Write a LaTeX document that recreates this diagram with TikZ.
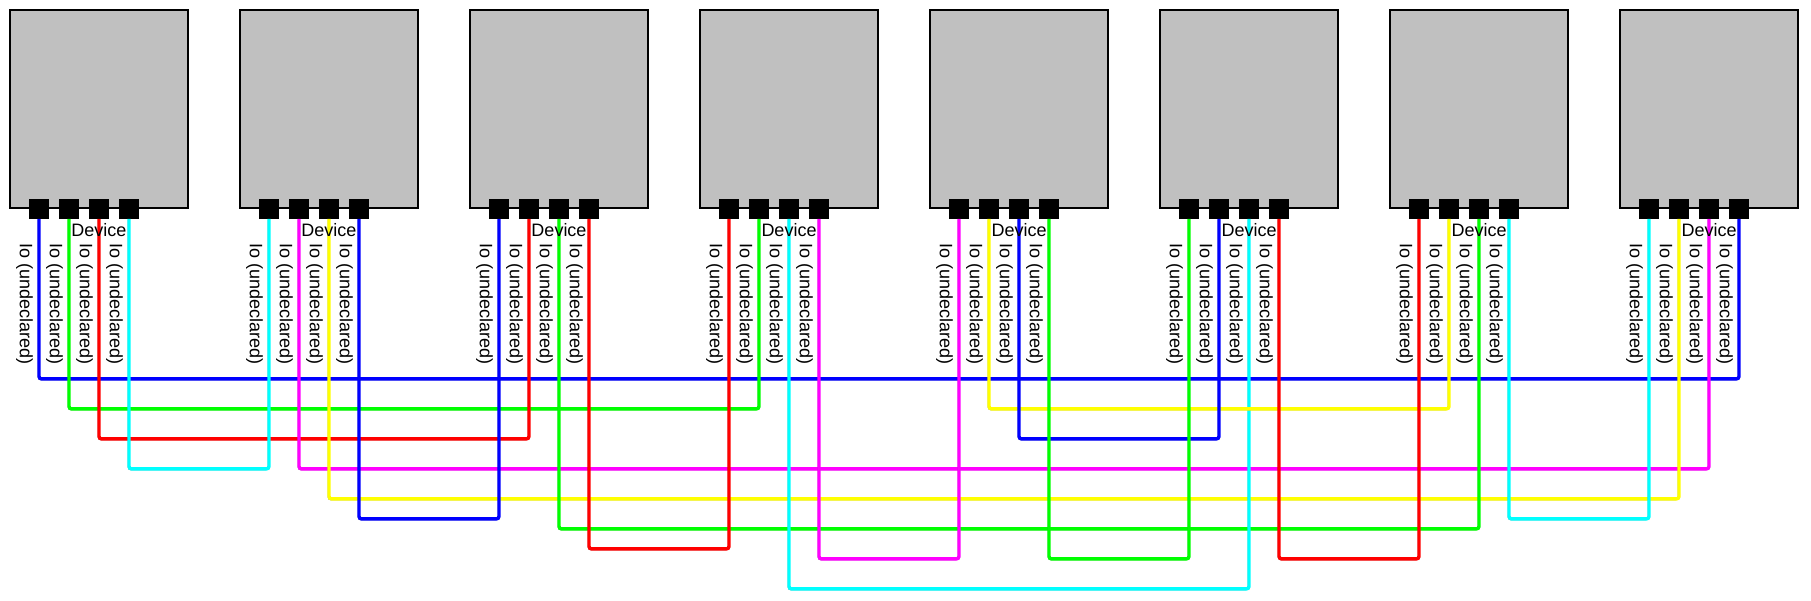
\documentclass[tikz,border=0pt]{standalone}
\usepackage{fontspec}
\setmainfont{Liberation Sans}
\definecolor{devgray}{RGB}{192,192,192}
\definecolor{wireblue}{RGB}{0,0,255}
\definecolor{wiregreen}{RGB}{0,255,0}
\definecolor{wirered}{RGB}{255,0,0}
\definecolor{wirecyan}{RGB}{0,255,255}
\definecolor{wiremagenta}{RGB}{255,0,255}
\definecolor{wireyellow}{RGB}{255,255,0}

\begin{document}
\begin{tikzpicture}[x=1pt,y=1pt,node distance=230pt,
    device/.style={draw=black,fill=devgray,line width=1.8pt,minimum width=177.4pt,minimum height=198pt,inner sep=0pt},
    devlabel/.style={node distance=121pt,font=\fontsize{18}{20}\selectfont,inner sep=0pt},
    pin/.style={fill=black,minimum size=19.4pt,inner sep=0pt,node distance=30pt},
    iolabel/.style={rotate=-90,font=\fontsize{18}{20}\selectfont,inner sep=0pt},
    wire/.style={line width=3.4pt,rounded corners=2.5pt,
        preaction={draw=black,transform canvas={shift={(-1pt,-1pt)}}}}]
                \useasboundingbox (0,0) rectangle (1811,-600);

                % devices
                \node[device] (d1) at (99,-109) {};
                \node[device] (d2) [right of = d1] {};
                \node[device] (d3) [right of = d2] {};
                \node[device] (d4) [right of = d3] {};
                \node[device] (d5) [right of = d4] {};
                \node[device] (d6) [right of = d5] {};
                \node[device] (d7) [right of = d6] {};
                \node[device] (d8) [right of = d7] {};

                % pins
                \node[pin] (p1a) at ([xshift=-60pt]d1.south) {};
                \node[pin] (p1b) [right of = p1a] {};
                \node[pin] (p1c) [right of = p1b] {};
                \node[pin] (p1d) [right of = p1c] {};
                \node[pin] (p2a) at ([xshift=-60pt]d2.south) {};
                \node[pin] (p2b) [right of = p2a] {};
                \node[pin] (p2c) [right of = p2b] {};
                \node[pin] (p2d) [right of = p2c] {};
                \node[pin] (p3a) at ([xshift=-60pt]d3.south) {};
                \node[pin] (p3b) [right of = p3a] {};
                \node[pin] (p3c) [right of = p3b] {};
                \node[pin] (p3d) [right of = p3c] {};
                \node[pin] (p4a) at ([xshift=-60pt]d4.south) {};
                \node[pin] (p4b) [right of = p4a] {};
                \node[pin] (p4c) [right of = p4b] {};
                \node[pin] (p4d) [right of = p4c] {};
                \node[pin] (p5a) at ([xshift=-60pt]d5.south) {};
                \node[pin] (p5b) [right of = p5a] {};
                \node[pin] (p5c) [right of = p5b] {};
                \node[pin] (p5d) [right of = p5c] {};
                \node[pin] (p6a) at ([xshift=-60pt]d6.south) {};
                \node[pin] (p6b) [right of = p6a] {};
                \node[pin] (p6c) [right of = p6b] {};
                \node[pin] (p6d) [right of = p6c] {};
                \node[pin] (p7a) at ([xshift=-60pt]d7.south) {};
                \node[pin] (p7b) [right of = p7a] {};
                \node[pin] (p7c) [right of = p7b] {};
                \node[pin] (p7d) [right of = p7c] {};
                \node[pin] (p8a) at ([xshift=-60pt]d8.south) {};
                \node[pin] (p8b) [right of = p8a] {};
                \node[pin] (p8c) [right of = p8b] {};
                \node[pin] (p8d) [right of = p8c] {};

                % wires
                \draw[wire, wireblue] (p1a) -- ++(0,-170) -| (p8d);
                \draw[wire, wiregreen] (p1b) -- ++(0,-200) -| (p4b);
                \draw[wire, wirered] (p1c) -- ++(0,-230) -| (p3b);
                \draw[wire, wirecyan] (p1d) -- ++(0,-260) -| (p2a);
                \draw[wire, wiremagenta] (p2b) -- ++(0,-260) -| (p8c);
                \draw[wire, wireyellow] (p2c) -- ++(0,-290) -| (p8b);
                \draw[wire, wireblue] (p2d) -- ++(0,-310) -| (p3a);
                \draw[wire, wiregreen] (p3c) -- ++(0,-320) -| (p7c);
                \draw[wire, wirered] (p3d) -- ++(0,-340) -| (p4a);
                \draw[wire, wirecyan] (p4c) -- ++(0,-380) -| (p6c);
                \draw[wire, wiremagenta] (p4d) -- ++(0,-350) -| (p5a);
                \draw[wire, wireyellow] (p5b) -- ++(0,-200) -| (p7b);
                \draw[wire, wireblue] (p5c) -- ++(0,-230) -| (p6b);
                \draw[wire, wiregreen] (p5d) -- ++(0,-350) -| (p6a);
                \draw[wire, wirered] (p6d) -- ++(0,-350) -| (p7a);
                \draw[wire, wirecyan] (p7d) -- ++(0,-310) -| (p8a);

                % device names
                \node[devlabel] (t1) [below of = d1] {Device};
                \node[devlabel] (t2) [below of = d2] {Device};
                \node[devlabel] (t3) [below of = d3] {Device};
                \node[devlabel] (t4) [below of = d4] {Device};
                \node[devlabel] (t5) [below of = d5] {Device};
                \node[devlabel] (t6) [below of = d6] {Device};
                \node[devlabel] (t7) [below of = d7] {Device};
                \node[devlabel] (t8) [below of = d8] {Device};

                % pin names
                \node[iolabel] (l1a) at ([xshift=-14.5pt,yshift=-95pt]p1a) {Io (undeclared)};
                \node[iolabel] (l1b) at ([xshift=-14.5pt,yshift=-95pt]p1b) {Io (undeclared)};
                \node[iolabel] (l1c) at ([xshift=-14.5pt,yshift=-95pt]p1c) {Io (undeclared)};
                \node[iolabel] (l1d) at ([xshift=-14.5pt,yshift=-95pt]p1d) {Io (undeclared)};
                \node[iolabel] (l2a) at ([xshift=-14.5pt,yshift=-95pt]p2a) {Io (undeclared)};
                \node[iolabel] (l2b) at ([xshift=-14.5pt,yshift=-95pt]p2b) {Io (undeclared)};
                \node[iolabel] (l2c) at ([xshift=-14.5pt,yshift=-95pt]p2c) {Io (undeclared)};
                \node[iolabel] (l2d) at ([xshift=-14.5pt,yshift=-95pt]p2d) {Io (undeclared)};
                \node[iolabel] (l3a) at ([xshift=-14.5pt,yshift=-95pt]p3a) {Io (undeclared)};
                \node[iolabel] (l3b) at ([xshift=-14.5pt,yshift=-95pt]p3b) {Io (undeclared)};
                \node[iolabel] (l3c) at ([xshift=-14.5pt,yshift=-95pt]p3c) {Io (undeclared)};
                \node[iolabel] (l3d) at ([xshift=-14.5pt,yshift=-95pt]p3d) {Io (undeclared)};
                \node[iolabel] (l4a) at ([xshift=-14.5pt,yshift=-95pt]p4a) {Io (undeclared)};
                \node[iolabel] (l4b) at ([xshift=-14.5pt,yshift=-95pt]p4b) {Io (undeclared)};
                \node[iolabel] (l4c) at ([xshift=-14.5pt,yshift=-95pt]p4c) {Io (undeclared)};
                \node[iolabel] (l4d) at ([xshift=-14.5pt,yshift=-95pt]p4d) {Io (undeclared)};
                \node[iolabel] (l5a) at ([xshift=-14.5pt,yshift=-95pt]p5a) {Io (undeclared)};
                \node[iolabel] (l5b) at ([xshift=-14.5pt,yshift=-95pt]p5b) {Io (undeclared)};
                \node[iolabel] (l5c) at ([xshift=-14.5pt,yshift=-95pt]p5c) {Io (undeclared)};
                \node[iolabel] (l5d) at ([xshift=-14.5pt,yshift=-95pt]p5d) {Io (undeclared)};
                \node[iolabel] (l6a) at ([xshift=-14.5pt,yshift=-95pt]p6a) {Io (undeclared)};
                \node[iolabel] (l6b) at ([xshift=-14.5pt,yshift=-95pt]p6b) {Io (undeclared)};
                \node[iolabel] (l6c) at ([xshift=-14.5pt,yshift=-95pt]p6c) {Io (undeclared)};
                \node[iolabel] (l6d) at ([xshift=-14.5pt,yshift=-95pt]p6d) {Io (undeclared)};
                \node[iolabel] (l7a) at ([xshift=-14.5pt,yshift=-95pt]p7a) {Io (undeclared)};
                \node[iolabel] (l7b) at ([xshift=-14.5pt,yshift=-95pt]p7b) {Io (undeclared)};
                \node[iolabel] (l7c) at ([xshift=-14.5pt,yshift=-95pt]p7c) {Io (undeclared)};
                \node[iolabel] (l7d) at ([xshift=-14.5pt,yshift=-95pt]p7d) {Io (undeclared)};
                \node[iolabel] (l8a) at ([xshift=-14.5pt,yshift=-95pt]p8a) {Io (undeclared)};
                \node[iolabel] (l8b) at ([xshift=-14.5pt,yshift=-95pt]p8b) {Io (undeclared)};
                \node[iolabel] (l8c) at ([xshift=-14.5pt,yshift=-95pt]p8c) {Io (undeclared)};
                \node[iolabel] (l8d) at ([xshift=-14.5pt,yshift=-95pt]p8d) {Io (undeclared)};
\end{tikzpicture}
\end{document}
